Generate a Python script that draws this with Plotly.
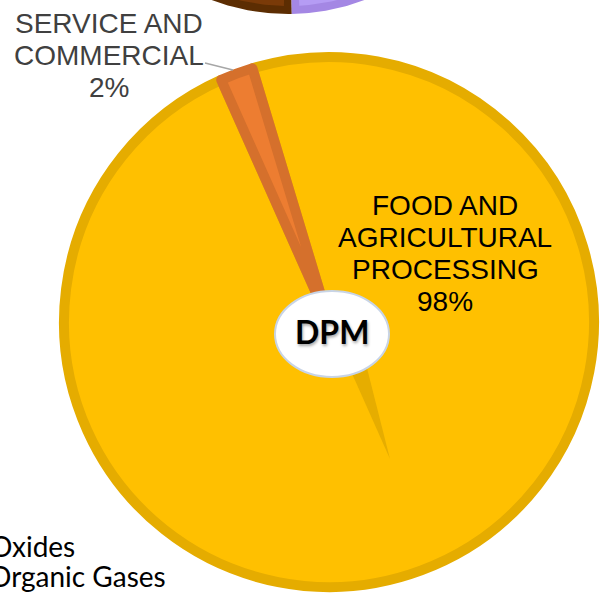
import numpy as np
import plotly.graph_objects as go

# ---------------- data ----------------
categories = ["FOOD AND AGRICULTURAL PROCESSING", "SERVICE AND COMMERCIAL"]
shares = [98, 2]
label_lines = [["FOOD AND", "AGRICULTURAL", "PROCESSING"], ["SERVICE AND", "COMMERCIAL"]]
center_title = "DPM"
top_pie_shares = [50, 50]          # partially visible neighbouring pie (estimated)
side_text = ["Oxides", "Organic Gases"]

# ---------------- style / geometry (pixels) ----------------
W, H = 600, 595
CX, CY, R = 329, 322, 265
LW = 10
ROT = -16.8
fill_colors = ["#FFC000", "#ED7D31"]
rim_colors = ["#E5AC00", "#D5702C"]
top_fill = ["#7A3A08", "#B59CF4"]
top_rim = ["#5C2D02", "#A487E4"]
TCX, TCY, TR = 288, -202, 216
TOP_START = 179.0

fig = go.Figure()

# neighbouring pie (mostly off-canvas) drawn from its shares
tot = sum(top_pie_shares)
a0 = TOP_START
for i, v in enumerate(top_pie_shares):
    a1 = a0 + 360.0 * v / tot
    for rr, inset, col in [(TR, 0.0, top_rim[i]), (TR - 8, np.degrees(8 / TR), top_fill[i])]:
        ang = np.radians(np.linspace(a0 + inset, a1 - inset, 200))
        xs = np.concatenate([[TCX], TCX + rr * np.sin(ang), [TCX]])
        ys = np.concatenate([[TCY], TCY - rr * np.cos(ang), [TCY]])
        fig.add_trace(go.Scatter(x=xs, y=ys, mode="lines", fill="toself", fillcolor=col,
                                 line=dict(width=0), hoverinfo="skip", showlegend=False))
    a0 = a1

# main pie
fig.add_trace(go.Pie(
    values=shares, labels=categories, sort=False, direction="clockwise", rotation=ROT,
    marker=dict(colors=fill_colors, line=dict(color=rim_colors, width=LW)),
    textinfo="none", hoverinfo="label+percent", showlegend=False,
    domain=dict(x=[(CX - R) / W, (CX + R) / W], y=[1 - (CY + R) / H, 1 - (CY - R) / H]),
))

# decorative shadow streak continuing the small slice edge through the centre
edge = np.radians(ROT - 3.6 * shares[1] + 180)
d = np.array([np.sin(edge), -np.cos(edge)])
p = np.array([np.cos(edge), np.sin(edge)]) * -1
A = np.array([CX, CY]) + d * 40
B = A + p * 19
T = np.array([CX, CY]) + d * 150
shapes = [
    dict(type="path", xref="x", yref="y", layer="above",
         path=f"M{A[0]},{A[1]} L{B[0]},{B[1]} L{T[0]},{T[1]} Z",
         fillcolor="#E6AD00", line=dict(width=0)),
    dict(type="circle", xref="x", yref="y", layer="above",
         x0=275, x1=389, y0=291, y1=377, fillcolor="white",
         line=dict(color="#C8D4E6", width=2)),
    dict(type="line", xref="x", yref="y", layer="above",
         x0=205, y0=63, x1=233, y1=70, line=dict(color="#A6A6A6", width=1.3)),
]

annotations = []
pct = [f"{s}%" for s in shares]
food_lines = label_lines[0] + [pct[0]]
for k, t in enumerate(food_lines):
    annotations.append(dict(x=445, y=205 + 32 * k, xref="x", yref="y", text=t, showarrow=False,
                            xanchor="center", yanchor="middle",
                            font=dict(family="Liberation Sans, Arial", size=28, color="#000000")))
serv_lines = label_lines[1] + [pct[1]]
for k, t in enumerate(serv_lines):
    annotations.append(dict(x=109, y=23 + 32 * k, xref="x", yref="y", text=t, showarrow=False,
                            xanchor="center", yanchor="middle",
                            font=dict(family="Liberation Sans, Arial", size=28, color="#404040")))
annotations.append(dict(x=332, y=331, xref="x", yref="y", text=f"<b>{center_title}</b>", showarrow=False,
                        xanchor="center", yanchor="middle",
                        font=dict(family="Lato", size=32, color="#000000",
                                  shadow="1px 2px 3px rgba(0,0,0,0.35)")))
for k, t in enumerate(side_text):
    annotations.append(dict(x=[77, 168][k], y=546 + 30 * k, xref="x", yref="y", text=t, showarrow=False,
                            xanchor="right", yanchor="middle",
                            font=dict(family="Lato", size=28, color="#000000")))

fig.update_layout(
    width=W, height=H, margin=dict(l=0, r=0, t=0, b=0),
    paper_bgcolor="white", plot_bgcolor="white",
    xaxis=dict(range=[0, W], visible=False, fixedrange=True, domain=[0, 1]),
    yaxis=dict(range=[H, 0], visible=False, fixedrange=True, domain=[0, 1]),
    shapes=shapes, annotations=annotations, showlegend=False,
)
fig.write_html("out.html")
